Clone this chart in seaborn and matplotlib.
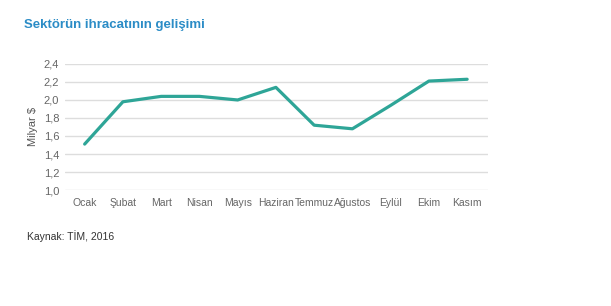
import matplotlib
matplotlib.use("Agg")
import matplotlib.pyplot as plt
import seaborn as sns
import pandas as pd

months = ["Ocak", "Şubat", "Mart", "Nisan", "Mayıs", "Haziran", "Temmuz",
          "Ağustos", "Eylül", "Ekim", "Kasım"]
values = [1.51, 1.98, 2.04, 2.04, 2.00, 2.14, 1.72, 1.68, 1.94, 2.21, 2.23]
yticks = [1.0, 1.2, 1.4, 1.6, 1.8, 2.0, 2.2, 2.4]
ytick_labels = ["1,0", "1,2", "1,4", "1,6", "1,8", "2,0", "2,2", "2,4"]

sns.set_style("white")
plt.rcParams['font.family'] = ['Liberation Sans', 'DejaVu Sans']

df = pd.DataFrame({"x": range(len(months)), "y": values})

fig = plt.figure(figsize=(6.11, 3.06), dpi=100)
ax = fig.add_axes([0.106, 0.379, 0.693, 0.412])
sns.lineplot(data=df, x="x", y="y", ax=ax, color="#2ea597", linewidth=2.3, clip_on=False)

ax.set_xlim(-0.52, 10.55)
ax.set_ylim(1.0, 2.4)
ax.set_yticks(yticks)
ax.set_yticklabels(ytick_labels)
ax.set_xticks(range(len(months)))
ax.set_xticklabels(months)
ax.grid(axis="y", color="#dddddd", linewidth=1)
ax.set_axisbelow(True)
for s in ax.spines.values():
    s.set_visible(False)
ax.tick_params(axis="both", length=0, colors="#666666")
ax.tick_params(axis="x", pad=6, labelsize=7.5)
ax.tick_params(axis="y", pad=4, labelsize=8)
ax.set_xlabel("")
ax.set_ylabel("Milyar $", fontsize=8, color="#555555", labelpad=4)

fig.text(24/611, 1-25/306, "Sektörün ihracatının gelişimi", fontsize=9.5,
         fontweight="bold", color="#2b8cc6", va="center", ha="left")
fig.text(27/611, 1-236/306, "Kaynak: TİM, 2016", fontsize=7.5, color="#333333",
         va="center", ha="left")

fig.savefig("out.png", dpi=100)
